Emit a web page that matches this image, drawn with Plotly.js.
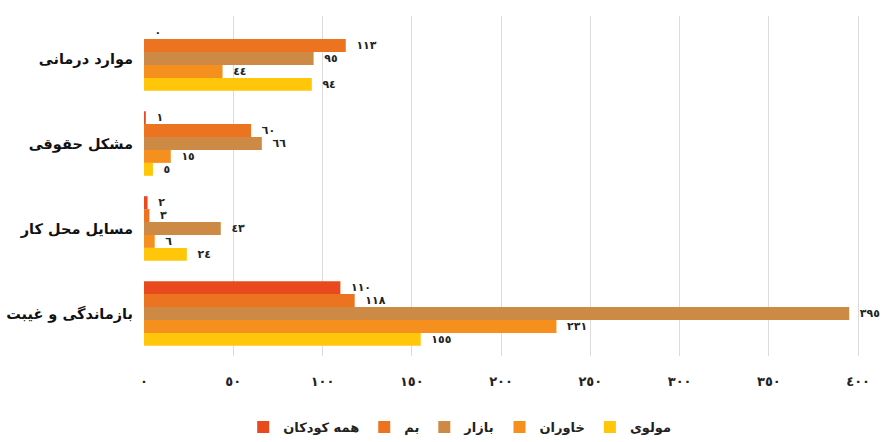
<!DOCTYPE html>
<html>
<head>
<meta charset="utf-8">
<script src="https://cdn.plot.ly/plotly-3.0.1.min.js"></script>
<style>
  html, body { margin: 0; padding: 0; background: #fff; }
  #chart { width: 884px; height: 442px; }
</style>
</head>
<body>
<div id="chart"></div>
<script>
// Categories (top to bottom)
const categories = ['موارد درمانی', 'مشکل حقوقی', 'مسایل محل کار', 'بازماندگی و غیبت'];

// Series names (legend order) and values per category
const seriesNames = ['همه کودکان', 'بم', 'بازار', 'خاوران', 'مولوی'];
const allChildren = [0, 1, 2, 110];
const bam = [113, 60, 3, 118];
const bazar = [95, 66, 43, 395];
const khavaran = [44, 15, 6, 231];
const molavi = [94, 5, 24, 155];

// X axis ticks
const tickValues = [0, 50, 100, 150, 200, 250, 300, 350, 400];
const tickLabels = ['٠', '٥٠', '١٠٠', '١٥٠', '٢٠٠', '٢٥٠', '٣٠٠', '٣٥٠', '٤٠٠'];

const seriesColors = ['#E84A1E', '#EC7320', '#CC8A45', '#F5901E', '#FFC60A'];
const seriesValues = [allChildren, bam, bazar, khavaran, molavi];

// Convert Western digits to Arabic-Indic digits for value labels,
// with a little non-breaking padding so the label sits clear of the bar end
const toIndic = v => '\u00A0\u00A0' + String(v).replace(/[0-9]/g, d => '٠١٢٣٤٥٦٧٨٩'[+d]);

const arabicFont = 'DejaVu Sans, Noto Sans, sans-serif';

const traces = seriesNames.map((name, i) => ({
  type: 'bar',
  orientation: 'h',
  name: name,
  y: categories,
  x: seriesValues[i],
  text: seriesValues[i].map(toIndic),
  textposition: 'outside',
  cliponaxis: false,
  textfont: { family: arabicFont, size: 11, color: '#222', weight: 'bold' },
  marker: { color: seriesColors[i], line: { width: 0 } },
  hoverinfo: 'x+name'
}));

const layout = {
  width: 884,
  height: 442,
  margin: { l: 144, r: 8, t: 16, b: 86, autoexpand: false },
  paper_bgcolor: '#ffffff',
  plot_bgcolor: '#ffffff',
  barmode: 'group',
  bargap: 0.24,
  bargroupgap: 0,
  showlegend: true,
  legend: {
    orientation: 'h',
    xref: 'container', yref: 'container',
    x: 0.52, xanchor: 'center',
    y: 0.0, yanchor: 'bottom',
    font: { family: arabicFont, size: 13, color: '#222', weight: 'bold' },
    itemwidth: 30,
    tracegroupgap: 0,
    traceorder: 'normal'
  },
  xaxis: {
    range: [0, 410],
    tickvals: tickValues,
    ticktext: tickLabels,
    showgrid: true,
    gridcolor: '#dcdcdc',
    gridwidth: 1,
    zeroline: false,
    showline: false,
    ticks: '',
    ticklen: 0,
    ticklabelstandoff: 16,
    automargin: false,
    tickfont: { family: arabicFont, size: 13, color: '#222', weight: 'bold' },
    fixedrange: true
  },
  yaxis: {
    autorange: 'reversed',
    showgrid: false,
    zeroline: false,
    showline: false,
    ticks: '',
    automargin: false,
    ticklabelstandoff: 10,
    tickfont: { family: arabicFont, size: 14.5, color: '#111', weight: 'bold' },
    fixedrange: true
  }
};

Plotly.newPlot('chart', traces, layout, { displayModeBar: false, staticPlot: true });
</script>
</body>
</html>
